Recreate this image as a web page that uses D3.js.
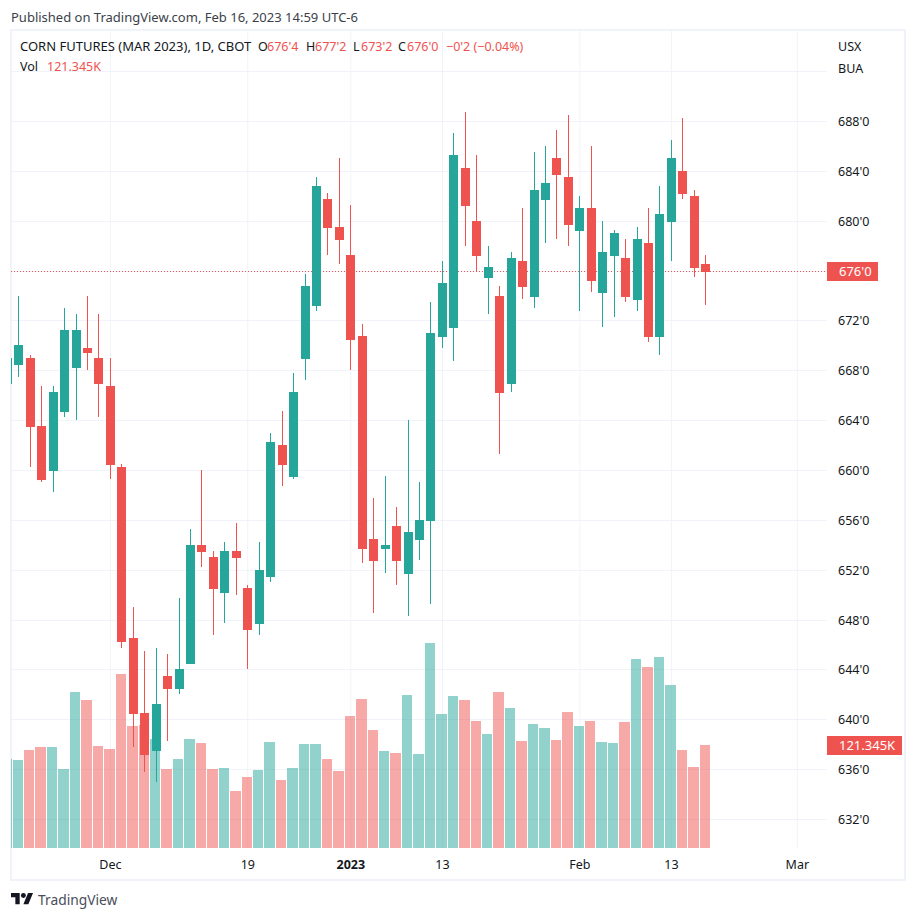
<html>
<head>
<title>Corn futures</title>
<script src="https://cdnjs.cloudflare.com/ajax/libs/d3/7.8.5/d3.min.js"></script>
<style>
    body { margin: 0; background: #fff; }
    text { font-family: "Noto Sans", sans-serif; }
</style>
</head>
<body>
<svg width="916" height="919"></svg>
<script>
// trading sessions, the last few are only there to carry the axis out to March
var dates = ["2022-11-17","2022-11-18","2022-11-21","2022-11-22","2022-11-23","2022-11-25","2022-11-28","2022-11-29","2022-11-30",
    "2022-12-01","2022-12-02","2022-12-05","2022-12-06","2022-12-07","2022-12-08","2022-12-09","2022-12-12","2022-12-13","2022-12-14","2022-12-15","2022-12-16",
    "2022-12-19","2022-12-20","2022-12-21","2022-12-22","2022-12-23","2022-12-27","2022-12-28","2022-12-29","2022-12-30",
    "2023-01-03","2023-01-04","2023-01-05","2023-01-06","2023-01-09","2023-01-10","2023-01-11","2023-01-12","2023-01-13",
    "2023-01-17","2023-01-18","2023-01-19","2023-01-20","2023-01-23","2023-01-24","2023-01-25","2023-01-26","2023-01-27","2023-01-30","2023-01-31",
    "2023-02-01","2023-02-02","2023-02-03","2023-02-06","2023-02-07","2023-02-08","2023-02-09","2023-02-10","2023-02-13","2023-02-14","2023-02-15","2023-02-16"];
var futureDates = ["2023-02-17","2023-02-21","2023-02-22","2023-02-23","2023-02-24","2023-02-27","2023-02-28","2023-03-01"];

var opens = [667,668.5,669,663.5,660,664.75,668.25,669.75,669,666.75,660.25,646.5,640.5,637.5,643.5,642.5,644.5,654,653,650.25,653.5,650.5,647.75,651.5,662,659.5,669,673.25,681.75,679.5,677.25,670.75,654.5,653.75,655.5,651.75,654.5,656,670.75,671.5,684.25,680,675.5,674,667,676.75,674,681.75,685,683.5,679.25,681,674.25,677.25,677,673.75,678.25,670.75,680,684,682,676.5];
var highs = [670,674,669.25,666.75,666.75,673,672.5,674,672.5,669,660.5,649,645.5,645.75,645.25,649.75,655.25,660,653.5,654.25,655.75,650.75,654.25,663,664.75,667.75,675.75,683.5,682.25,685,681.25,671.75,657.75,659.5,657,664,659,673.5,676.75,687,688.75,685.25,678,674.75,677.5,681,685.5,686,687.25,688.5,682,686,680,679.25,678.5,679.5,681,682.75,686.5,688.25,682.5,677.25];
var lows = [666.5,667.5,660.25,659,658.25,664.25,664,668,664.25,659.25,645.75,637.75,635.75,635,638.25,642,644.5,652.25,646.75,647.75,650,644,646.75,651,658.75,659.25,667.25,672.75,677.25,676.5,668,652.5,648.5,651.75,650.75,648.25,652.75,649.25,669.75,668.75,678,676,672.5,661.25,666.25,673.75,673,678.25,678.5,678,672.75,674.25,671.5,672.25,673.5,672.75,670.25,669.25,676.75,681.75,675.5,673.25];
var closes = [669,670,663.5,659.25,666.25,671.25,671.25,669.5,667,660.5,646.25,640.5,637.25,641.25,642.5,644,654,653.5,650.5,653.5,653,647.25,652,662.25,660.5,666.25,674.75,682.75,679.5,678.5,670.5,653.75,652.75,654,652.75,655,656,671,675,685.25,681.25,677.25,676.25,666.25,677,674.75,682.5,683,683.75,679.75,681,675.25,677.5,679,674,678.5,670.75,680.5,685,682.25,676.25,676];
var volumes = [104.8,103.7,115.4,119,119,93,183.8,174.3,120.2,116.6,205,143.7,144.9,128.4,93,104.8,128.4,123.7,93,94.2,67.1,83.6,91.9,124.9,80.1,94.2,122.5,122.5,104.8,90.7,155.5,175.5,139,114.3,111.9,180.2,110.7,241.5,157.9,179.1,174.3,149.6,134.3,183.8,164.9,126,146.1,141.4,127.2,160.2,143.7,149.6,124.9,123.7,148.4,222.6,213.2,225,192,115.4,95.4,121.345];

var priceTicks = [632,636,640,644,648,652,656,660,664,668,672,676,680,684,688,692];
var timeTickDates = ["2022-12-01","2022-12-19","2023-01-03","2023-01-13","2023-02-01","2023-02-13","2023-03-01"];
var timeTickLabels = ["Dec","19","2023","13","Feb","13","Mar"];

var lastClose = closes[closes.length - 1];
var lastVolume = volumes[volumes.length - 1];

var up = "#26a69a", down = "#ef5350", grid = "#f0f3fa", ink = "#131722";
var paneLeft = 11, paneRight = 827, paneTop = 31, paneBottom = 848;

var xScale = d3.scalePoint().domain(dates.concat(futureDates)).range([6.85, 796.85]);
var step = xScale.step();
var yScale = d3.scaleLinear().domain([632,688]).rangeRound([819,121]);
var volScale = d3.scaleLinear().domain([0,241.5]).rangeRound([paneBottom, 643]);

var svg = d3.select("svg");

svg.append("clipPath").attr("id","pane").append("rect")
    .attr("x",paneLeft).attr("y",paneTop)
    .attr("width",paneRight-paneLeft).attr("height",paneBottom-paneTop);

// frame
svg.append("rect").attr("x",11).attr("y",30).attr("width",894).attr("height",850)
    .attr("fill","none").attr("stroke",grid).attr("stroke-width",2);

// axes carry the grid lines too. 692 has a line but no label, the 676 label is the tag
var yAxis = d3.axisRight(yScale)
    .tickValues(priceTicks)
    .tickSize(-(paneRight-paneLeft))
    .tickPadding(11)
    .tickFormat(d => (d == 692 || d == lastClose) ? "" : d + "'0");
var yG = svg.append("g").attr("transform","translate(" + paneRight + ",0)").call(yAxis);

var xAxis = d3.axisBottom(xScale)
    .tickValues(timeTickDates)
    .tickSize(-(paneBottom-paneTop))
    .tickPadding(12)
    .tickFormat((d,i) => timeTickLabels[i]);
var xG = svg.append("g").attr("transform","translate(0," + paneBottom + ")").call(xAxis);

[yG,xG].forEach(g => {
    g.select(".domain").remove();
    g.selectAll("line").attr("stroke",grid);
    g.selectAll("text").attr("fill",ink).attr("font-size",12.5).attr("font-family",'"Noto Sans", sans-serif');
});
xG.selectAll("text").filter(d => d == "2023-01-03").attr("font-weight","bold");

var pane = svg.append("g").attr("clip-path","url(#pane)");

// last price line
pane.append("line")
    .attr("x1",paneLeft).attr("x2",paneRight)
    .attr("y1",yScale(lastClose)+0.5).attr("y2",yScale(lastClose)+0.5)
    .attr("stroke",down).attr("stroke-dasharray","1 2");

var bars = dates.map((d,i) => ({date:d, o:opens[i], h:highs[i], l:lows[i], c:closes[i], v:volumes[i]}));
var colorOf = d => d.c >= d.o ? up : down;

pane.selectAll(".vol").data(bars).enter().append("rect")
    .attr("class","vol")
    .attr("x",d => Math.round(xScale(d.date)-step/2))
    .attr("width",d => Math.round(xScale(d.date)+step/2)-Math.round(xScale(d.date)-step/2)-1)
    .attr("y",d => volScale(d.v))
    .attr("height",d => paneBottom-volScale(d.v))
    .attr("fill",colorOf).attr("opacity",0.5);

pane.selectAll(".wick").data(bars).enter().append("rect")
    .attr("class","wick")
    .attr("x",d => Math.round(xScale(d.date)))
    .attr("width",1)
    .attr("y",d => yScale(d.h))
    .attr("height",d => yScale(d.l)-yScale(d.h))
    .attr("fill",colorOf);

// bottom pixel row of a body is inclusive on the original
pane.selectAll(".body").data(bars).enter().append("rect")
    .attr("class","body")
    .attr("x",d => Math.round(xScale(d.date))-4)
    .attr("width",9)
    .attr("y",d => yScale(Math.max(d.o,d.c)))
    .attr("height",d => Math.abs(yScale(d.o)-yScale(d.c))+1)
    .attr("fill",colorOf);

// value tags on the price axis
function tag(cy, w, label) {
    svg.append("rect").attr("x",paneRight).attr("y",cy-10).attr("width",w).attr("height",19).attr("fill",down);
    svg.append("text").attr("x",paneRight+12).attr("y",cy+4).attr("fill","#fff").attr("font-size",13).text(label);
}
tag(yScale(lastClose)+1, 51, lastClose + "'0");
tag(volScale(lastVolume)+1, 75, lastVolume + "K");

// header
function label(x, y, str, fill, size) {
    return svg.append("text").attr("x",x).attr("y",y).attr("fill",fill).attr("font-size",size || 12.5).text(str);
}
label(11,22,"Published on TradingView.com, Feb 16, 2023 14:59 UTC-6","#3b3f4a",13);
label(20,51,"CORN FUTURES (MAR 2023), 1D, CBOT",ink,13);
label(258,51,"O",ink);  label(267,51,"676'4",down);
label(306,51,"H",ink);  label(315,51,"677'2",down);
label(353,51,"L",ink);  label(361,51,"673'2",down);
label(398,51,"C",ink);  label(407,51,"676'0",down);
label(446,51,"\u22120'2 (\u22120.04%)",down);
label(20,71,"Vol",ink); label(47,71,"121.345K",down);
label(838,51,"USX",ink);
label(838,73,"BUA",ink);

// logo
var logo = svg.append("g").attr("transform","translate(11,890.5) scale(0.62)").attr("fill","#131722");
logo.append("path").attr("d","M14 22H7V11H0V4h14v18zM28 22h-8l7.5-18h8L28 22z");
logo.append("circle").attr("cx",20).attr("cy",8).attr("r",4);
label(38,905,"TradingView","#4a4e5a",13.8);
</script>
</body>
</html>
